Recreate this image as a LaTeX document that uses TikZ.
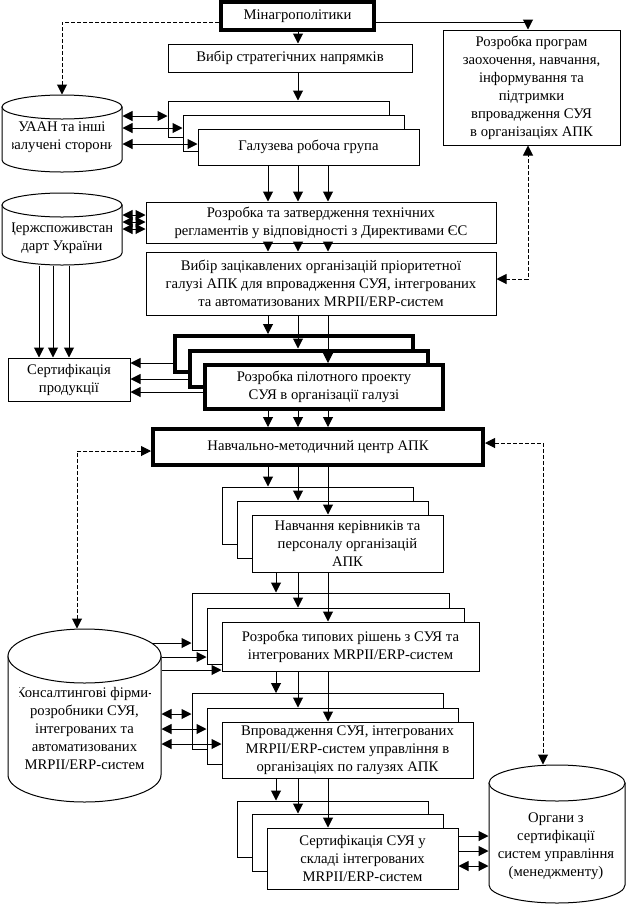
\documentclass[tikz,border=0pt]{standalone}
\usepackage{fontspec}
\setmainfont{Liberation Serif}
\usetikzlibrary{arrows.meta,fit}

% left, top, right, bottom, cap radius
\newcommand{\cylpath}[5]{%
  \filldraw[fill=white] (#1,#2+#5) -- (#1,#4-#5)
    arc[start angle=180, end angle=0, x radius={(#3-#1)/2}, y radius=#5]
    -- (#3,#2+#5) -- cycle;
  \filldraw[fill=white] ({(#1+#3)/2},#2+#5) ellipse[x radius={(#3-#1)/2}, y radius=#5];
}

\begin{document}
\begin{tikzpicture}[
  x=0.75pt, y=-0.75pt,
  line width=0.75pt,
  >={Triangle[length=7.5pt,width=7.5pt]},
  font=\fontsize{11}{13.5}\selectfont,
  box/.style={draw, fill=white, inner sep=0pt, align=center},
  boldbox/.style={box, line width=3pt},
  grpbox/.style={box, minimum width=165.75pt, minimum height=27pt},
  pilotbox/.style={boldbox, minimum width=178.5pt, minimum height=27pt},
  trainbox/.style={box, minimum width=143.25pt, minimum height=42.75pt},
  typbox/.style={box, minimum width=192.75pt, minimum height=42.75pt},
  implbox/.style={box, minimum width=188.25pt, minimum height=42pt},
  hole/.style={inner sep=0pt},
  lbl/.style={align=center, inner sep=0pt},
  link/.style={dash pattern=on 3pt off 1.5pt},
]
\useasboundingbox (0,0) rectangle (629,908);

\coordinate (ca) at (268,0);
\coordinate (cb) at (298,0);
\coordinate (cc) at (328,0);
\coordinate (cd) at (276,0);
\coordinate (pc) at (528,0);
\coordinate (toprow) at (0,22);
\coordinate (ctop) at (152,643);

% cylinders
\cylpath{2}{95}{122}{172}{12}
\cylpath{2}{193}{122}{265}{12}
\cylpath{8}{629}{161}{802}{27}
\cylpath{489}{765}{625}{903}{18}

\node[hole, fit={(2,95)(122,172)}] (uaan) {};
\node[hole, fit={(2,193)(122,265)}] (derzh) {};
\node[hole, fit={(8,629)(161,802)}] (cons) {};
\node[hole, fit={(489,765)(625,903)}] (org) {};

\begin{scope}
\clip (12,95) rectangle (111,172);
\node[lbl] (uaantxt) at (62,137) {УААН та інші\\залучені сторони};
\end{scope}
\begin{scope}
\clip (12,193) rectangle (111,265);
\node[lbl] (derzhtxt) at (62,238.5) {Держспоживстан-\\дарт України};
\end{scope}
\begin{scope}
\clip (19,629) rectangle (150,802);
\node[lbl] (constxt) at (84.5,728.5) {Консалтингові фірми-\\розробники СУЯ,\\інтегрованих та\\автоматизованих\\MRPII/ERP-систем};
\end{scope}
\begin{scope}
\clip (497,765) rectangle (625,903);
\node[lbl] (orgtxt) at (556,846) {Органи з\\сертифікації\\систем управління\\(менеджменту)};
\end{scope}

% boxes
\node[boldbox, minimum width=114.75pt, minimum height=21pt] (minagro) at (297.5,16) {Мінагрополітики};
\node[box, minimum width=183pt, minimum height=21pt] (strat) at (290,58) {Вибір стратегічних напрямків};
\node[box, minimum width=132.75pt, minimum height=86.25pt] (prog) at (531.5,87.5) {Розробка програм\\заохочення, навчання,\\інформування та\\підтримки\\впровадження СУЯ\\в організаціях АПК};

\node[grpbox] (grp1) at (278.5,119) {};
\node[grpbox] (grp2) at (293.5,133) {};
\node[grpbox] (grp3) at (308.5,147) {Галузева робоча група};

\node[box, minimum width=262.5pt, minimum height=30.75pt] (reglam) at (321,222.5) {Розробка та затвердження технічних\\регламентів у відповідності з Директивами ЄС};
\node[box, minimum width=262.5pt, minimum height=47.25pt] (choice) at (321,283.5) {Вибір зацікавлених організацій пріоритетної\\галузі АПК для впровадження СУЯ, інтегрованих\\та автоматизованих MRPII/ERP-систем};
\node[box, minimum width=91.5pt, minimum height=32.25pt] (prodcert) at (69,379.5) {Сертифікація\\продукції};

\node[pilotbox] (pilot1) at (294,354) {};
\node[pilotbox] (pilot2) at (309,368.5) {};
\node[pilotbox, minimum height=33pt] (pilot3) at (324,387) {Розробка пілотного проекту\\СУЯ в організації галузі};

\node[boldbox, minimum width=247.5pt, minimum height=27pt] (centre) at (318,447) {Навчально-методичний центр АПК};

\node[trainbox] (train1) at (317.5,515.5) {};
\node[trainbox] (train2) at (332.5,529.5) {};
\node[trainbox] (train3) at (347.5,543.5) {Навчання керівників та\\персоналу організацій\\АПК};

\node[typbox] (typ1) at (320.5,621.5) {};
\node[typbox, minimum height=42pt] (typ2) at (335.5,636) {};
\node[typbox, minimum height=36.75pt] (typ3) at (350.5,646.5) {Розробка типових рішень з СУЯ та\\інтегрованих MRPII/ERP-систем};

\node[implbox] (impl1) at (317.5,721.5) {};
\node[implbox] (impl2) at (332.5,736) {};
\node[implbox] (impl3) at (347.5,750) {Впровадження СУЯ, інтегрованих\\MRPII/ERP-систем управління в\\організаціях по галузях АПК};

\node[trainbox, minimum height=42pt] (syscert1) at (333,829) {};
\node[trainbox] (syscert2) at (347.5,842.5) {};
\node[trainbox, minimum height=45.75pt] (syscert3) at (362.5,858.5) {Сертифікація СУЯ у\\складі інтегрованих\\MRPII/ERP-систем};

% top part
\draw[->] (minagro.south -| cb) -- (strat.north -| cb);
\draw[->] (strat.south -| cb) -- (grp1.north -| cb);
\draw[->] (minagro.east |- toprow) -| (prog.north -| pc);
\draw[link, ->] (minagro.west |- toprow) -| (uaan.north);

\draw[<->] (uaan.east |- 0,116) -- (grp1.west |- 0,116);
\draw[<->] (uaan.east |- 0,128) -- (grp2.west |- 0,128);
\draw[<->] (uaan.east |- 0,144) -- (grp3.west |- 0,144);

\draw[->] (grp3.south -| ca) -- (reglam.north -| ca);
\draw[->] (grp3.south -| cb) -- (reglam.north -| cb);
\draw[->] (grp3.south -| cc) -- (reglam.north -| cc);

\draw[<->] (derzh.east |- 0,215) -- (reglam.west |- 0,215);
\draw[<->] (derzh.east |- 0,222) -- (reglam.west |- 0,222);
\draw[<->] (derzh.east |- 0,229) -- (reglam.west |- 0,229);

\draw[->] (reglam.south -| ca) -- (choice.north -| ca);
\draw[->] (reglam.south -| cb) -- (choice.north -| cb);
\draw[->] (reglam.south -| cc) -- (choice.north -| cc);
\draw[link, <->] (choice.east |- 0,279) -| (prog.south -| pc);

\draw[->] (derzh.south -| 39,0) -- (prodcert.north -| 39,0);
\draw[->] (derzh.south -| 53,0) -- (prodcert.north -| 53,0);
\draw[->] (derzh.south -| 69,0) -- (prodcert.north -| 69,0);

% pilot project
\draw[->] (choice.south -| ca) -- (pilot1.north -| ca);
\draw[->] (choice.south -| cb) -- (pilot2.north -| cb);
\draw[->] (choice.south -| cc) -- (pilot3.north -| cc);

\draw[->] (pilot1.west |- 0,363) -- (prodcert.east |- 0,363);
\draw[->] (pilot2.west |- 0,379) -- (prodcert.east |- 0,379);
\draw[->] (pilot3.west |- 0,392) -- (prodcert.east |- 0,392);

\draw[->] (pilot3.south -| ca) -- (centre.north -| ca);
\draw[->] (pilot3.south -| cb) -- (centre.north -| cb);
\draw[->] (pilot3.south -| cc) -- (centre.north -| cc);

\draw[link, <->] (centre.west |- 0,451) -| (cons.north -| 77,0);
\draw[link, <->] (centre.east |- 0,443) -| (org.north -| 543,0);

% lower part
\draw[->] (centre.south -| ca) -- (train1.north -| ca);
\draw[->] (centre.south -| cb) -- (train2.north -| cb);
\draw[->] (centre.south -| cc) -- (train3.north -| cc);

\draw[->] (train3.south -| cd) -- (typ1.north -| cd);
\draw[->] (train3.south -| cb) -- (typ2.north -| cb);
\draw[->] (train3.south -| cc) -- (typ3.north -| cc);

\draw[->] (ctop) -- (typ1.west |- ctop);
\draw[->] (cons.east |- 0,657) -- (typ2.west |- 0,657);
\draw[->] (cons.east |- 0,670) -- (typ3.west |- 0,670);

\draw[->] (typ3.south -| cd) -- (impl1.north -| cd);
\draw[->] (typ3.south -| cb) -- (impl2.north -| cb);
\draw[->] (typ3.south -| cc) -- (impl3.north -| cc);

\draw[<->] (cons.east |- 0,714) -- (impl1.west |- 0,714);
\draw[<->] (cons.east |- 0,729) -- (impl2.west |- 0,729);
\draw[<->] (cons.east |- 0,744) -- (impl3.west |- 0,744);

\draw[->] (impl3.south -| cd) -- (syscert1.north -| cd);
\draw[->] (impl3.south -| cb) -- (syscert2.north -| cb);
\draw[->] (impl3.south -| cc) -- (syscert3.north -| cc);

\draw[->] (syscert3.east |- 0,836) -- (org.west |- 0,836);
\draw[->] (syscert3.east |- 0,851) -- (org.west |- 0,851);
\draw[<->] (syscert3.east |- 0,866) -- (org.west |- 0,866);

\end{tikzpicture}
\end{document}
